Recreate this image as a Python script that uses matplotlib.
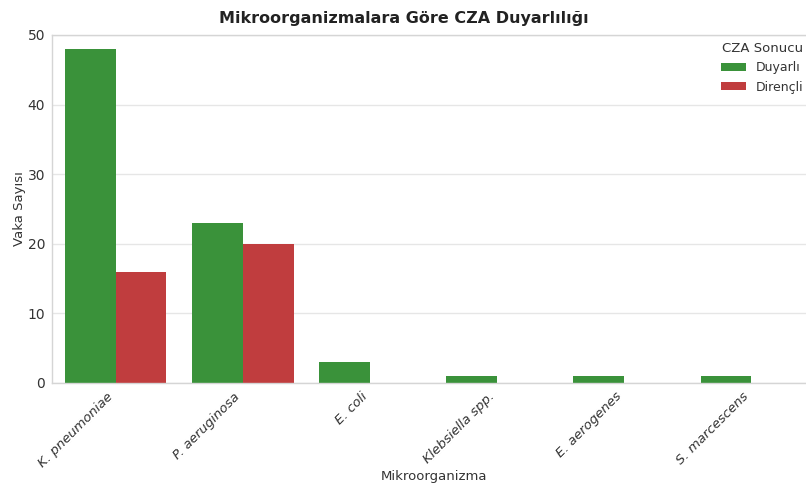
import matplotlib
matplotlib.use("Agg")
import matplotlib.pyplot as plt
import numpy as np

categories = ["K. pneumoniae", "P. aeruginosa", "E. coli", "Klebsiella spp.", "E. aerogenes", "S. marcescens"]
duyarli = [48, 23, 3, 1, 1, 1]
direncli = [16, 20, 0, 0, 0, 0]
series_names = ["Duyarlı", "Dirençli"]
colors = ["#3a923a", "#c03d3e"]

plt.rcParams['font.family'] = ['DejaVu Sans']
fig = plt.figure(figsize=(8.06, 4.87), dpi=100)
W, H = 806, 487
left, right, top, bottom = 52, 815, 35, 383
ax = fig.add_axes([left / W, 1 - bottom / H, (right - left) / W, (bottom - top) / H])

x = np.arange(len(categories))
w = 0.4
ax.bar(x - w / 2, duyarli, w, color=colors[0], label=series_names[0], zorder=2)
ax.bar(x + w / 2, direncli, w, color=colors[1], label=series_names[1], zorder=2)

ax.set_xlim(-0.5, len(categories) - 0.5)
ax.set_ylim(0, 50)
ax.set_yticks([0, 10, 20, 30, 40, 50])
ax.yaxis.grid(True, color="#e6e6e6", linewidth=1, zorder=0)
ax.set_axisbelow(True)
for s in ax.spines.values():
    s.set_color("#d5d5d5")
    s.set_linewidth(1)
ax.tick_params(axis="both", length=0, labelsize=10, colors="#333333", pad=5)
ax.set_xticks(x)
ax.set_xticklabels(categories, rotation=45, ha="right", style="italic", fontsize=9.5)

ax.set_title("Mikroorganizmalara Göre CZA Duyarlılığı", fontsize=11.5, fontweight="bold",
             color="#222222", pad=9, x=(404 - left) / (right - left))
ax.set_ylabel("Vaka Sayısı", fontsize=9.5, color="#333333", labelpad=1)
ax.set_xlabel("Mikroorganizma", fontsize=9.5, color="#333333", labelpad=0)

leg = ax.legend(title="CZA Sonucu", loc="upper right", bbox_to_anchor=(1.0, 1.012),
                frameon=False, fontsize=9, title_fontsize=9.5,
                handlelength=2.0, handleheight=0.6)
for t in leg.get_texts():
    t.set_color("#333333")
leg.get_title().set_color("#333333")

fig.savefig("out.png", dpi=100)
